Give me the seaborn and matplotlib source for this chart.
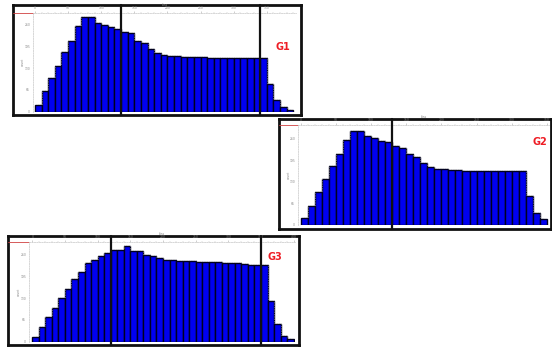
#!/usr/bin/env python3
import matplotlib
matplotlib.use("Agg")
import matplotlib.pyplot as plt
import matplotlib.transforms as mtransforms
import numpy as np
import seaborn as sns

# bar heights (arbitrary count units)
g1_counts = [20, 61, 101, 137, 178, 213, 257, 285, 283, 265, 261, 255, 248,
             238, 235, 213, 206, 188, 177, 170, 167, 166, 165, 164, 164, 163,
             162, 162, 161, 161, 162, 161, 161, 160, 160, 83, 35, 13, 6]
g2_counts = [20, 58, 100, 137, 177, 214, 255, 282, 282, 267, 260, 253, 248,
             237, 232, 212, 205, 187, 175, 168, 167, 164, 164, 163, 163, 163,
             162, 162, 163, 162, 162, 163, 87, 37, 17]
g3_counts = [13, 42, 72, 100, 130, 158, 188, 207, 235, 245, 257, 265, 275,
             275, 285, 272, 270, 260, 255, 250, 245, 243, 242, 240, 240, 238,
             238, 237, 237, 236, 236, 235, 232, 230, 230, 228, 122, 53, 17, 7]
panel_names = ["G1", "G2", "G3"]
# window edges (bin boundaries) marked by the black lines
g1_window = [12.5, 33.5]
g2_window = [12.5]
g3_window = [11.5, 34.5]
top_tick_labels = ["0", "50", "100", "150", "200", "250", "300", "350", "400"]

W, H = 552, 347


def fig_rect(left, top, right, bottom):
    return [left / W, 1 - bottom / H, (right - left) / W, (bottom - top) / H]


def draw_panel(fig, frame_px, inner_px, counts, xlim, ytop, window, name, label_px):
    fax = fig.add_axes(fig_rect(*frame_px), zorder=0)
    fax.set_xticks([])
    fax.set_yticks([])
    fax.set_facecolor("white")
    for s in fax.spines.values():
        s.set_color("#111111")
        s.set_linewidth(2.0)

    ax = fig.add_axes(fig_rect(*inner_px), zorder=1)
    ax.set_facecolor("none")
    bins = np.arange(len(counts))
    sns.histplot(x=bins, weights=counts, discrete=True, ax=ax,
                 color="#0000f0", edgecolor="#000020", linewidth=1.0, alpha=1)
    ax.step(bins, np.array(counts) + 3, where="mid", color="#b0b0b0",
            ls=(0, (1, 1.5)), lw=0.5)
    ax.set_xlim(*xlim)
    ax.set_ylim(0, ytop)
    ax.set_xlabel("")
    ax.set_ylabel("")

    ax.xaxis.tick_top()
    ticks = np.arange(-0.5, xlim[1], 5)
    ax.set_xticks(ticks)
    ax.set_xticklabels(top_tick_labels[:len(ticks)])
    ax.set_xticks(np.arange(-0.5, xlim[1], 1), minor=True)
    ax.set_yticks(np.arange(0, ytop, 65))
    ax.set_yticklabels([str(v) for v in np.arange(0, ytop, 65)])
    ax.tick_params(axis="both", which="major", labelsize=2.2, labelcolor="#888888",
                   color="#aaaaaa", length=1.5, width=0.4, pad=0.5)
    ax.tick_params(axis="x", which="minor", color="#bbbbbb", length=0.8, width=0.3, top=True)
    for side in ["right", "bottom"]:
        ax.spines[side].set_visible(False)
    for side in ["top", "left"]:
        ax.spines[side].set_color("#c8c8c8")
        ax.spines[side].set_linewidth(0.5)
        ax.spines[side].set_linestyle((0, (2, 1.5)))
    ax.text(0.5, 1.07, "bins", transform=ax.transAxes, fontsize=2.2,
            color="#888888", ha="center")
    ax.text(-0.045, 0.5, "count", transform=ax.transAxes, fontsize=2.2,
            color="#888888", va="center", rotation=90)

    # red stub of the top axis to the left of the y axis
    inner_w = inner_px[2] - inner_px[0]
    ax.plot([-(inner_px[0] - frame_px[0]) / inner_w, 0], [1, 1], transform=ax.transAxes,
            color="#d04040", lw=0.6, clip_on=False)

    # window lines spanning the full frame height
    trans = mtransforms.blended_transform_factory(ax.transData, fax.transAxes)
    for xv in window:
        ax.plot([xv, xv], [0, 1], transform=trans, color="#111111", lw=1.6,
                clip_on=False, zorder=5)

    fig.text(label_px[0] / W, 1 - label_px[1] / H, name, color="#ee1c24",
             fontsize=7, fontweight="bold", ha="center", va="center")


def main() -> None:
    sns.set_theme(style="white")
    plt.rcParams["font.family"] = ["DejaVu Sans"]
    fig = plt.figure(figsize=(W / 100, H / 100), dpi=100)

    draw_panel(fig, (13, 5, 301, 115), (33, 13, 296, 111.5), g1_counts,
               (-0.8, 38.9), 296, g1_window, panel_names[0], (283, 47))
    draw_panel(fig, (279, 119, 551, 229), (298, 125, 549, 225), g2_counts,
               (-0.88, 34.8), 300, g2_window, panel_names[1], (540, 142))
    draw_panel(fig, (8, 236, 299, 345), (29, 242, 295, 341.5), g3_counts,
               (-1.0, 39.7), 298, g3_window, panel_names[2], (275, 257))

    fig.savefig("out.png", dpi=100)
    plt.close(fig)


if __name__ == "__main__":
    main()
